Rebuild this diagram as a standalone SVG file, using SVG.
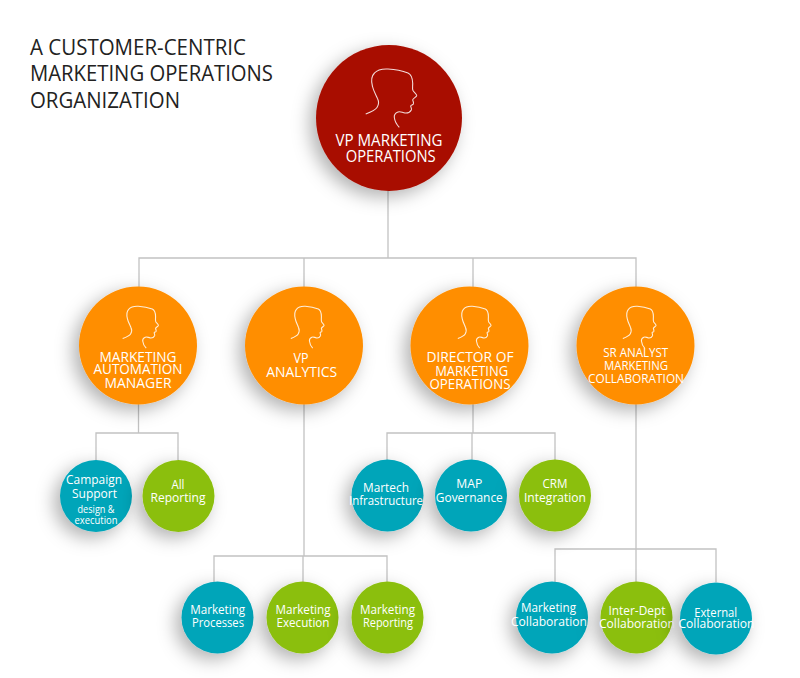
<svg xmlns="http://www.w3.org/2000/svg" width="800" height="678" viewBox="0 0 800 678">
<style>
text{font-family:"Open Sans","Noto Sans","Liberation Sans",sans-serif;text-anchor:middle;fill:#fff}
.title{font-size:21.500px;text-anchor:start;fill:#222}
.l{font-size:16.500px}.m{font-size:15px}.s{font-size:13.500px}.xs{font-size:11.500px}
.red{fill:#a80f00}.org{fill:#ff8e00}.teal{fill:#00a5b9}.grn{fill:#8bbf0f}
.wire{fill:none;stroke:#c2c2c2;stroke-width:1.300}
.head{fill:none;stroke:#fff;stroke-opacity:.85;stroke-width:1.100;vector-effect:non-scaling-stroke}
circle{filter:url(#sh)}
</style>
<defs>
<filter id="sh" x="-50%" y="-50%" width="200%" height="200%"><feDropShadow dx="-6" dy="6" stdDeviation="9" flood-color="#000" flood-opacity=".3"/></filter>
<path id="head" class="head" d="M-23.300-4C-18-6-14-7.500-12-10.500C-10-13.500-10-16.500-11.500-19.500C-13-23-15.500-27-16.500-31.500C-18-37-17.500-42-14.500-45C-11.500-48.500-7-49.300-1-49C6-48.700 14-47 19-45C22.500-43.500 23.500-40 23.700-34.700C23.800-32 23-30 24-27.500C25-25.500 28-24 27.700-22.300C27-20.500 23.500-19.500 23.700-18C24-16.500 25-15.500 24.300-14C23.800-13 21.700-13 21.700-12C21.700-10.500 23-9.500 22.300-8C21-5.500 19-4.700 16-5C13-5.500 11.500-7 9-6C6.500-5 5-3 5.300-.7C5.700 3 8 7 10.300 9.300"/>
</defs>
<rect width="800" height="678" fill="#fff"/>
<g id="connectors" class="wire">
<path d="M388 190V258M139 287V258H636V287M304 258V287M473 258V287"/>
<path d="M138.500 404V433M96 460V433H178V460"/>
<path d="M304 404V556M214 582V556H387V582M303 556V582"/>
<path d="M473 404V433M387 460V433H555V460M472 433V460"/>
<path d="M636 404V549M555 582V549H716V582M636 549V582"/>
</g>
<g id="title">
<text class="title" x="30" y="55" textLength="216" lengthAdjust="spacingAndGlyphs">A CUSTOMER-CENTRIC</text>
<text class="title" x="30" y="81" textLength="243" lengthAdjust="spacingAndGlyphs">MARKETING OPERATIONS</text>
<text class="title" x="30" y="108" textLength="150" lengthAdjust="spacingAndGlyphs">ORGANIZATION</text>
</g>
<g id="vp-marketing-operations">
<circle class="red" cx="389" cy="118" r="73"/>
<use href="#head" x="389" y="118"/>
<text class="l" x="389" y="145.700" textLength="107" lengthAdjust="spacingAndGlyphs">VP MARKETING</text>
<text class="l" x="390.700" y="161.700" textLength="90" lengthAdjust="spacingAndGlyphs">OPERATIONS</text>
</g>
<g id="marketing-automation-manager">
<circle class="org" cx="138" cy="345.500" r="59"/>
<use href="#head" transform="translate(139 341.500) scale(.7 .72)"/>
<text class="m" x="138" y="361.700" textLength="77" lengthAdjust="spacingAndGlyphs">MARKETING</text>
<text class="m" x="138" y="374.300" textLength="89" lengthAdjust="spacingAndGlyphs">AUTOMATION</text>
<text class="m" x="138" y="387.700" textLength="67" lengthAdjust="spacingAndGlyphs">MANAGER</text>
</g>
<g id="vp-analytics">
<circle class="org" cx="304" cy="345.500" r="59"/>
<use href="#head" transform="translate(306 341.500) scale(.65 .72)"/>
<text class="m" x="301" y="362.700" textLength="15" lengthAdjust="spacingAndGlyphs">VP</text>
<text class="m" x="301.700" y="376.700" textLength="71" lengthAdjust="spacingAndGlyphs">ANALYTICS</text>
</g>
<g id="director-of-marketing-operations">
<circle class="org" cx="469.500" cy="345.500" r="59"/>
<use href="#head" transform="translate(473 341.500) scale(.65 .72)"/>
<text class="m" x="470" y="362" textLength="87" lengthAdjust="spacingAndGlyphs">DIRECTOR OF</text>
<text class="m" x="471.700" y="375.700" textLength="73" lengthAdjust="spacingAndGlyphs">MARKETING</text>
<text class="m" x="470" y="388.700" textLength="81" lengthAdjust="spacingAndGlyphs">OPERATIONS</text>
</g>
<g id="sr-analyst-marketing-collaboration">
<circle class="org" cx="635.500" cy="345.500" r="59"/>
<use href="#head" transform="translate(638 341.500) scale(.65 .72)"/>
<text class="s" x="635.700" y="357.300" textLength="65" lengthAdjust="spacingAndGlyphs">SR ANALYST</text>
<text class="s" x="636" y="370" textLength="64" lengthAdjust="spacingAndGlyphs">MARKETING</text>
<text class="s" x="636" y="383.300" textLength="96" lengthAdjust="spacingAndGlyphs">COLLABORATION</text>
</g>
<g id="campaign-support">
<circle class="teal" cx="96" cy="496" r="36"/>
<text class="s" x="94" y="484.300" textLength="56" lengthAdjust="spacingAndGlyphs">Campaign</text>
<text class="s" x="94.500" y="497.700" textLength="45" lengthAdjust="spacingAndGlyphs">Support</text>
<text class="xs" x="96" y="512.700" textLength="37" lengthAdjust="spacingAndGlyphs">design &amp;</text>
<text class="xs" x="96" y="523.500" textLength="43" lengthAdjust="spacingAndGlyphs">execution</text>
</g>
<g id="all-reporting">
<circle class="grn" cx="178.500" cy="496" r="36"/>
<text class="s" x="178" y="489" textLength="13" lengthAdjust="spacingAndGlyphs">All</text>
<text class="s" x="178" y="502" textLength="55" lengthAdjust="spacingAndGlyphs">Reporting</text>
</g>
<g id="martech-infrastructure">
<circle class="teal" cx="387.500" cy="495.500" r="36"/>
<text class="s" x="386" y="491.700" textLength="46" lengthAdjust="spacingAndGlyphs">Martech</text>
<text class="s" x="386" y="505" textLength="74" lengthAdjust="spacingAndGlyphs">Infrastructure</text>
</g>
<g id="map-governance">
<circle class="teal" cx="471" cy="495.500" r="36"/>
<text class="s" x="469.300" y="488" textLength="26" lengthAdjust="spacingAndGlyphs">MAP</text>
<text class="s" x="469.300" y="502.300" textLength="67" lengthAdjust="spacingAndGlyphs">Governance</text>
</g>
<g id="crm-integration">
<circle class="grn" cx="555" cy="495.500" r="36"/>
<text class="s" x="555" y="488" textLength="25" lengthAdjust="spacingAndGlyphs">CRM</text>
<text class="s" x="555" y="502.300" textLength="62" lengthAdjust="spacingAndGlyphs">Integration</text>
</g>
<g id="marketing-processes">
<circle class="teal" cx="217.500" cy="617.500" r="36"/>
<text class="s" x="217.700" y="614.300" textLength="55" lengthAdjust="spacingAndGlyphs">Marketing</text>
<text class="s" x="218" y="626.700" textLength="52" lengthAdjust="spacingAndGlyphs">Processes</text>
</g>
<g id="marketing-execution">
<circle class="grn" cx="302.500" cy="617.500" r="36"/>
<text class="s" x="303" y="614.300" textLength="55" lengthAdjust="spacingAndGlyphs">Marketing</text>
<text class="s" x="303" y="626.700" textLength="53" lengthAdjust="spacingAndGlyphs">Execution</text>
</g>
<g id="marketing-reporting">
<circle class="grn" cx="387.500" cy="617.500" r="36"/>
<text class="s" x="387.500" y="614.300" textLength="55" lengthAdjust="spacingAndGlyphs">Marketing</text>
<text class="s" x="388" y="626.700" textLength="50" lengthAdjust="spacingAndGlyphs">Reporting</text>
</g>
<g id="marketing-collaboration">
<circle class="teal" cx="552" cy="617.500" r="36"/>
<text class="s" x="548.500" y="612.300" textLength="55" lengthAdjust="spacingAndGlyphs">Marketing</text>
<text class="s" x="549" y="626" textLength="76" lengthAdjust="spacingAndGlyphs">Collaboration</text>
</g>
<g id="inter-dept-collaboration">
<circle class="grn" cx="636.500" cy="617.500" r="36"/>
<text class="s" x="637" y="615" textLength="57" lengthAdjust="spacingAndGlyphs">Inter-Dept</text>
<text class="s" x="637" y="627.700" textLength="76" lengthAdjust="spacingAndGlyphs">Collaboration</text>
</g>
<g id="external-collaboration">
<circle class="teal" cx="716" cy="618.500" r="36"/>
<text class="s" x="715.700" y="616.700" textLength="43" lengthAdjust="spacingAndGlyphs">External</text>
<text class="s" x="716.500" y="628.300" textLength="76" lengthAdjust="spacingAndGlyphs">Collaboration</text>
</g>
</svg>
